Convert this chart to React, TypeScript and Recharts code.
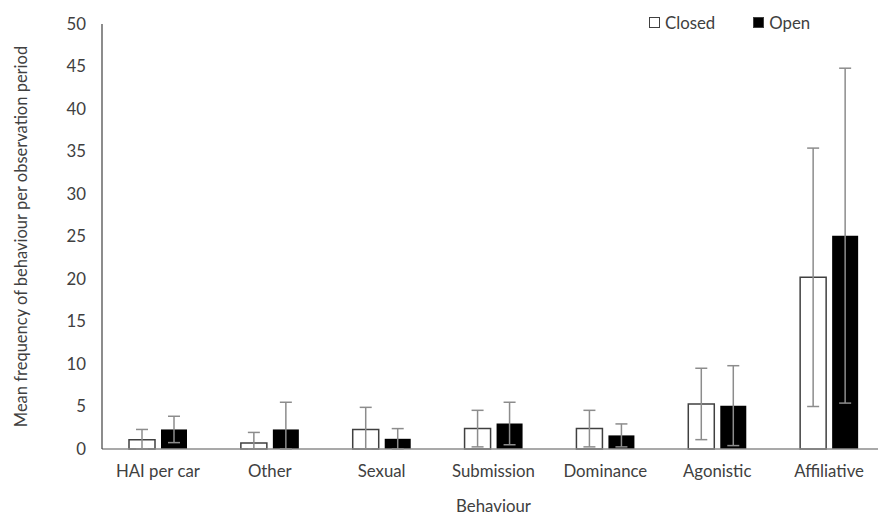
import { BarChart, Bar, XAxis, YAxis, ErrorBar, Label } from 'recharts';

const behaviours = ['HAI per car', 'Other', 'Sexual', 'Submission', 'Dominance', 'Agonistic', 'Affiliative'];
const closedMean = [1.1, 0.7, 2.3, 2.4, 2.4, 5.3, 20.2];
const openMean = [2.3, 2.3, 1.2, 3.0, 1.6, 5.1, 25.1];
const closedSd = [1.2, 1.25, 2.6, 2.15, 2.15, 4.2, 15.2];
const openSd = [1.55, 3.2, 1.2, 2.5, 1.35, 4.7, 19.7];
const yTicks = [0, 5, 10, 15, 20, 25, 30, 35, 40, 45, 50];

// lower whisker stops at the axis, like Excel does
const data = behaviours.map((name, i) => ({
  name,
  closed: closedMean[i],
  open: openMean[i],
  closedErr: [Math.min(closedSd[i], closedMean[i]), closedSd[i]],
  openErr: [Math.min(openSd[i], openMean[i]), openSd[i]],
}));

const font = 'Lato, "Open Sans", sans-serif';
const textColor = '#404040';
const fs = 16.8;

function LegendBox() {
  const items = [
    { label: 'Closed', fill: '#ffffff' },
    { label: 'Open', fill: '#000000' },
  ];
  return (
    <div
      style={{
        position: 'absolute',
        top: 12,
        left: 649,
        display: 'flex',
        gap: 38,
        fontFamily: font,
        fontSize: fs,
        color: textColor,
      }}
    >
      {items.map((it) => (
        <span key={it.label} style={{ display: 'flex', alignItems: 'center' }}>
          <span
            style={{
              display: 'inline-block',
              width: 9,
              height: 9,
              background: it.fill,
              border: '1px solid #404040',
              marginRight: 5,
            }}
          />
          {it.label}
        </span>
      ))}
    </div>
  );
}

export default function App() {
  return (
    <div style={{ position: 'absolute', left: 0, top: 0, width: 878, height: 515, overflow: 'hidden', background: '#fff' }}>
      <BarChart
        width={895}
        height={515}
        data={data}
        margin={{ top: 24, right: 10, bottom: 0, left: 0 }}
        barSize={26}
        barGap={6}
      >
        <XAxis
          dataKey="name"
          axisLine={{ stroke: '#8c8c8c', strokeWidth: 1.5 }}
          tickLine={false}
          tickSize={0}
          tickMargin={16}
          height={66}
          tick={{ fill: textColor, fontSize: fs, fontFamily: font }}
        >
          <Label
            value="Behaviour"
            position="insideBottom"
            offset={3}
            style={{ fill: textColor, fontSize: fs, fontFamily: font }}
          />
        </XAxis>
        <YAxis
          domain={[0, 50]}
          ticks={yTicks}
          interval={0}
          width={102}
          axisLine={{ stroke: '#404040', strokeWidth: 1.2 }}
          tickLine={false}
          tickSize={0}
          tickMargin={16}
          tick={{ fill: textColor, fontSize: fs, fontFamily: font }}
        >
          <Label
            value="Mean frequency of behaviour per observation period"
            angle={-90}
            position="insideLeft"
            offset={21}
            style={{ textAnchor: 'middle', fill: textColor, fontSize: 16.5, fontFamily: font }}
          />
        </YAxis>
        <Bar dataKey="closed" name="Closed" fill="#ffffff" stroke="#404040" strokeWidth={1.5} isAnimationActive={false}>
          <ErrorBar dataKey="closedErr" width={6} stroke="#8c8c8c" strokeWidth={1.5} isAnimationActive={false} />
        </Bar>
        <Bar dataKey="open" name="Open" fill="#000000" isAnimationActive={false}>
          <ErrorBar dataKey="openErr" width={6} stroke="#8c8c8c" strokeWidth={1.5} isAnimationActive={false} />
        </Bar>
      </BarChart>
      <LegendBox />
    </div>
  );
}
